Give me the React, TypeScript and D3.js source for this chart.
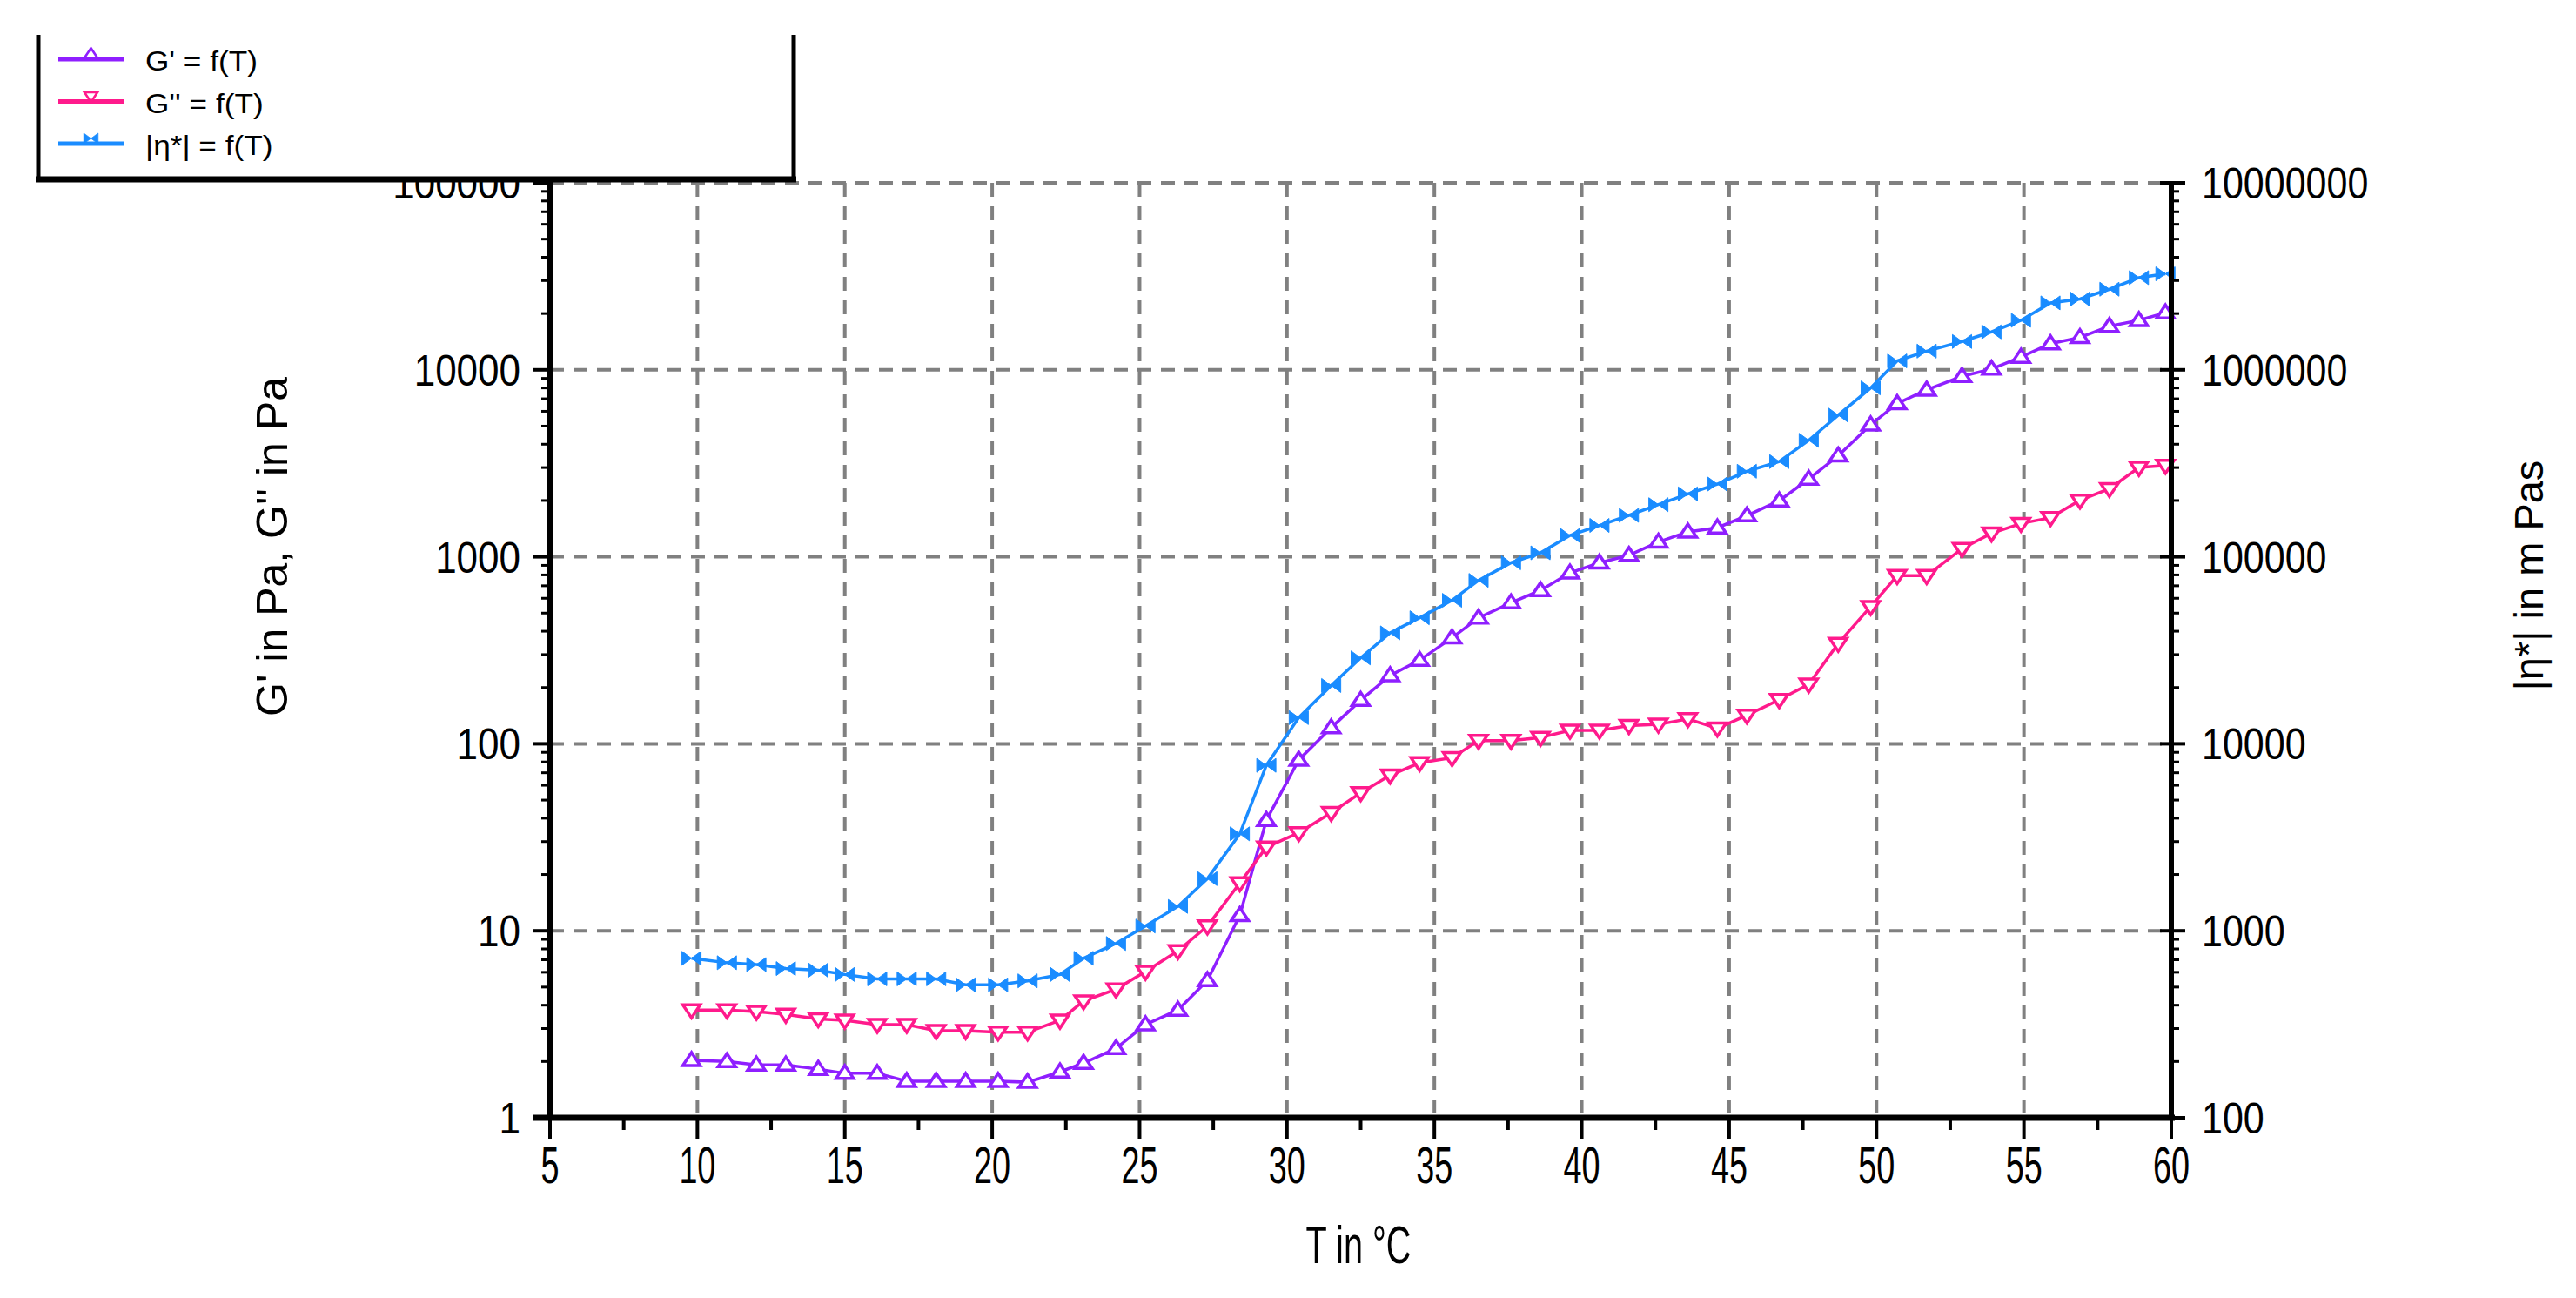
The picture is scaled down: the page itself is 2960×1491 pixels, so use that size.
import React from "react";
import * as d3 from "d3";

// Temperature (°C) of each measured point
const T = [9.8, 11.0, 12.0, 13.0, 14.1, 15.0, 16.1, 17.1, 18.1, 19.1, 20.2, 21.2, 22.3, 23.1, 24.2, 25.2, 26.3, 27.3, 28.4,
  29.3, 30.4, 31.5, 32.5, 33.5, 34.5, 35.6, 36.5, 37.6, 38.6, 39.6, 40.6, 41.6, 42.6, 43.6, 44.6,
  45.6, 46.7, 47.7, 48.7, 49.8, 50.7, 51.7, 52.9, 53.9, 54.9, 55.9, 56.9, 57.9, 58.9, 59.8];

// G' in Pa
const G1 = [2.03, 2.0, 1.92, 1.92, 1.82, 1.73, 1.73, 1.57, 1.57, 1.57, 1.57, 1.55, 1.76, 1.96, 2.35, 3.15, 3.77, 5.43, 12.1,
  39, 82, 122, 171, 232, 280, 369, 472, 568, 661, 820, 929, 1019, 1200, 1360, 1430,
  1660, 1995, 2606, 3470, 5080, 6610, 7800, 9230, 10100, 11700, 13800, 14900, 17100, 18400, 20200];

// G'' in Pa
const G2 = [3.77, 3.77, 3.7, 3.57, 3.38, 3.32, 3.15, 3.15, 2.92, 2.92, 2.87, 2.87, 3.32, 4.21, 4.87, 6.05, 7.81, 10.6, 18.0,
  28, 33.4, 42.8, 54.7, 67.9, 79.1, 84.2, 104, 104, 108, 118, 118, 125, 127, 136, 121,
  142, 172, 208, 344, 541, 792, 792, 1105, 1336, 1506, 1618, 2006, 2313, 3003, 3080];

// |η*| in mPas
const ETA = [713, 675, 660, 628, 616, 584, 553, 553, 553, 514, 514, 540, 584, 713, 855, 1060, 1350, 1900, 3300,
  7670, 13800, 20500, 28800, 39200, 47200, 58500, 74800, 92900, 105000, 130200, 147200, 166600, 190000, 217000, 245000,
  286800, 323000, 420000, 572500, 800000, 1116000, 1259000, 1417000, 1595000, 1840000, 2280000, 2390000, 2697000, 3110000, 3260000];

const X_TICKS = [5, 10, 15, 20, 25, 30, 35, 40, 45, 50, 55, 60];
const LEFT_TICKS = [1, 10, 100, 1000, 10000, 100000];
const RIGHT_TICKS = [100, 1000, 10000, 100000, 1000000, 10000000];

const SERIES = [
  { name: "G' = f(T)", values: G1, color: "#8f1fff", marker: "up", axis: "left" },
  { name: "G'' = f(T)", values: G2, color: "#ff1a8c", marker: "down", axis: "left" },
  { name: "|η*| = f(T)", values: ETA, color: "#1a8cff", marker: "bow", axis: "right" },
];

const W = 2960, H = 1491;
const PL = 632, PR = 2495, PT = 210, PB = 1284;
const FONT = "'Liberation Sans', Arial, sans-serif";

const MARKERS: Record<string, string> = {
  up: "M0,-9 L10,6 L-10,6 Z",
  down: "M0,9 L10,-6 L-10,-6 Z",
  bow: "M-11,-8 L0,0 L-11,8 Z M11,-8 L0,0 L11,8 Z",
};

function SText({ x, y, size, sx = 1, anchor = "start", rotate = 0, weight = "normal", children }: any) {
  return (
    <text
      transform={`translate(${x},${y}) rotate(${rotate}) scale(${sx},1)`}
      fontSize={size}
      fontFamily={FONT}
      fontWeight={weight}
      textAnchor={anchor}
      fill="#000"
    >
      {children}
    </text>
  );
}

export default function App() {
  const x = d3.scaleLinear().domain([5, 60]).range([PL, PR]);
  const yL = d3.scaleLog().domain([1, 100000]).range([PB, PT]);
  const yR = d3.scaleLog().domain([100, 10000000]).range([PB, PT]);

  const leftMinor = yL.ticks().filter((v) => !LEFT_TICKS.includes(v));
  const rightMinor = yR.ticks().filter((v) => !RIGHT_TICKS.includes(v));
  const xMinor = d3.range(7.5, 60, 5);

  const grid = { stroke: "#808080", strokeWidth: 4, strokeDasharray: "16 11" };

  return (
    <svg width={W} height={H} style={{ position: "absolute", left: 0, top: 0, background: "#fff" }}>
      <rect x={0} y={0} width={W} height={H} fill="#fff" />
      {/* grid */}
      {X_TICKS.filter((t) => t > 5 && t < 60).map((t) => (
        <line key={"gx" + t} x1={x(t)} x2={x(t)} y1={PT} y2={PB} {...grid} />
      ))}
      {LEFT_TICKS.filter((t) => t > 1).map((t) => (
        <line key={"gy" + t} x1={PL} x2={PR} y1={yL(t)} y2={yL(t)} {...grid} />
      ))}

      {/* series */}
      {SERIES.map((s) => {
        const yy = s.axis === "left" ? yL : yR;
        const line = d3.line<number>().x((_, i) => x(T[i])).y((v) => yy(v));
        return (
          <g key={s.name}>
            <path d={line(s.values) || ""} fill="none" stroke={s.color} strokeWidth={3.5} />
            {s.values.map((v, i) => (
              <path
                key={i}
                d={MARKERS[s.marker]}
                transform={`translate(${x(T[i])},${yy(v)})`}
                fill={s.marker === "bow" ? s.color : "#fff"}
                stroke={s.color}
                strokeWidth={s.marker === "bow" ? 1 : 3.5}
              />
            ))}
          </g>
        );
      })}

      {/* axes */}
      <g stroke="#000">
        <line x1={612} x2={PR + 4} y1={PB} y2={PB} strokeWidth={7} />
        <line x1={PL} x2={PL} y1={PT - 2} y2={PB} strokeWidth={6} />
        <line x1={PR} x2={PR} y1={PT - 2} y2={PB} strokeWidth={6} />
        {X_TICKS.map((t) => (
          <line key={"xt" + t} x1={x(t)} x2={x(t)} y1={PB} y2={PB + 24} strokeWidth={4} />
        ))}
        {xMinor.map((t) => (
          <line key={"xm" + t} x1={x(t)} x2={x(t)} y1={PB} y2={PB + 14} strokeWidth={4} />
        ))}
        {LEFT_TICKS.map((t) => (
          <line key={"lt" + t} x1={PL - 20} x2={PL} y1={yL(t)} y2={yL(t)} strokeWidth={4} />
        ))}
        {leftMinor.map((t) => (
          <line key={"lm" + t} x1={PL - 10} x2={PL} y1={yL(t)} y2={yL(t)} strokeWidth={3} />
        ))}
        {RIGHT_TICKS.map((t) => (
          <line key={"rt" + t} x1={PR - 13} x2={PR + 16} y1={yR(t)} y2={yR(t)} strokeWidth={4} />
        ))}
        {rightMinor.map((t) => (
          <line key={"rm" + t} x1={PR} x2={PR + 9} y1={yR(t)} y2={yR(t)} strokeWidth={3} />
        ))}
      </g>

      {/* tick labels */}
      {X_TICKS.map((t) => (
        <SText key={"xl" + t} x={x(t)} y={PB + 75} size={59} sx={0.64} anchor="middle">
          {String(t)}
        </SText>
      ))}
      {LEFT_TICKS.map((t) => (
        <SText key={"ll" + t} x={PL - 34} y={yL(t) + 18} size={50} sx={0.88} anchor="end">
          {String(t)}
        </SText>
      ))}
      {RIGHT_TICKS.map((t) => (
        <SText key={"rl" + t} x={PR + 35} y={yR(t) + 18} size={50} sx={0.86} anchor="start">
          {String(t)}
        </SText>
      ))}

      {/* axis titles */}
      <SText x={1561} y={1451} size={61} sx={0.65} anchor="middle">T in °C</SText>
      <SText x={330} y={628} size={50} rotate={-90} anchor="middle">G' in Pa, G'' in Pa</SText>
      <SText x={2922} y={661} size={47} rotate={-90} anchor="middle">|η*| in m Pas</SText>

      {/* legend */}
      <rect x={44} y={0} width={868} height={206} fill="#fff" />
      <g stroke="#000">
        <line x1={44} x2={44} y1={40} y2={206} strokeWidth={5} />
        <line x1={912} x2={912} y1={40} y2={206} strokeWidth={5} />
        <line x1={41} x2={915} y1={206} y2={206} strokeWidth={7} />
      </g>
      {SERIES.map((s, i) => {
        const ly = 68 + i * 48.5;
        return (
          <g key={"lg" + s.name}>
            <line x1={67} x2={142} y1={ly} y2={ly} stroke={s.color} strokeWidth={5} />
            <path
              d={MARKERS[s.marker]}
              transform={`translate(104.5,${ly - 6}) scale(0.75)`}
              fill={s.marker === "bow" ? s.color : "#fff"}
              stroke={s.color}
              strokeWidth={s.marker === "bow" ? 1 : 3.5}
            />
            <SText x={167} y={ly + 13} size={32} sx={1.1}>{s.name}</SText>
          </g>
        );
      })}
    </svg>
  );
}
